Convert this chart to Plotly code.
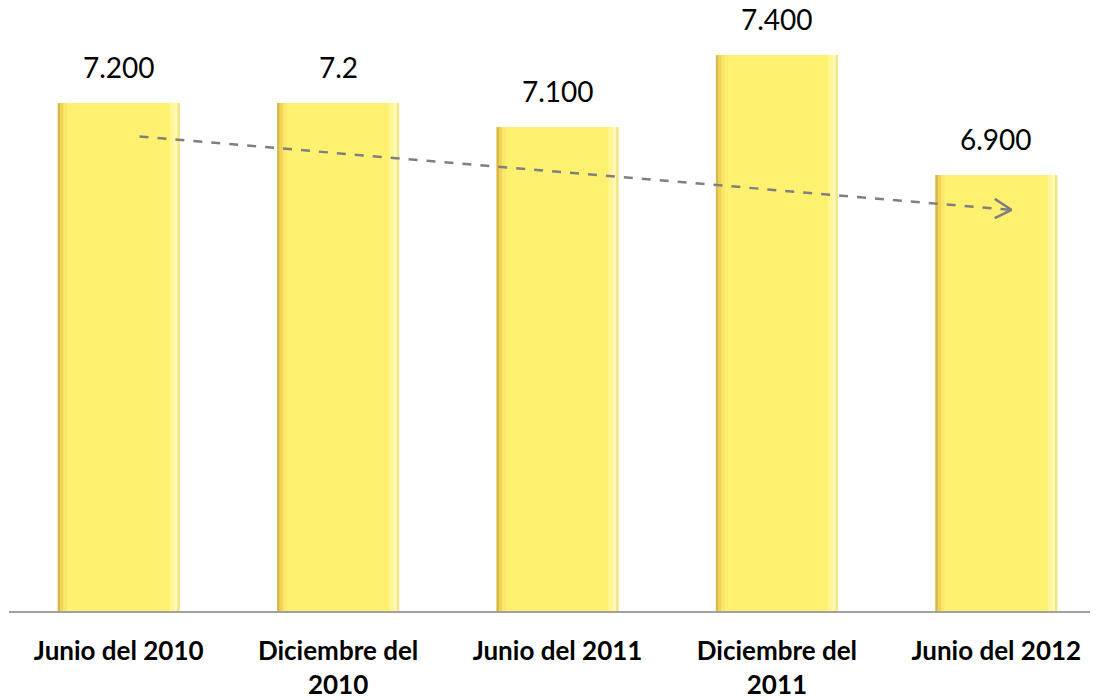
import plotly.graph_objects as go

categories = ["Junio del 2010", "Diciembre del<br>2010", "Junio del 2011", "Diciembre del<br>2011", "Junio del 2012"]
values = [7.2, 7.2, 7.1, 7.4, 6.9]
value_labels = ["7.200", "7.2", "7.100", "7.400", "6.900"]

# trend arrow (data units): start / end
trend_x = [0.095, 4.07]
trend_y = [7.06, 6.754]

x = list(range(len(categories)))
BW = 0.556
fig = go.Figure()

# base bar
fig.add_trace(go.Bar(x=x, y=values, width=BW, marker=dict(color="#FFF170", line=dict(width=0)),
                     hoverinfo="skip", showlegend=False))
# shading strips to mimic horizontal gradient
strips = [
    (-BW/2, 0.012, "#D9B84A"),
    (-BW/2 + 0.012, 0.014, "#EFD258"),
    (-BW/2 + 0.026, 0.016, "#FBE666"),
    (BW/2 - 0.045, 0.02, "#FFF594"),
    (BW/2 - 0.025, 0.015, "#FFF9B8"),
    (BW/2 - 0.01, 0.01, "#F3E38A"),
]
for off, w, c in strips:
    fig.add_trace(go.Bar(x=x, y=values, width=w, offset=off,
                         marker=dict(color=c, line=dict(width=0)),
                         hoverinfo="skip", showlegend=False))

for xi, v, lab in zip(x, values, value_labels):
    fig.add_annotation(x=xi, y=v, text=lab, showarrow=False, yanchor="bottom", yshift=17,
                       font=dict(family="Lato", size=28, color="#000000"))

line_style = dict(color="#7F7F7F", width=2.5)
fig.add_shape(type="line", x0=trend_x[0], y0=trend_y[0], x1=trend_x[1], y1=trend_y[1],
              line=dict(color="#7F7F7F", width=2.5, dash="dash"))
# open arrow head
fig.add_shape(type="line", x0=trend_x[1] - 0.077, y0=trend_y[1] + 0.046, x1=trend_x[1], y1=trend_y[1],
              line=line_style)
fig.add_shape(type="line", x0=trend_x[1] - 0.077, y0=trend_y[1] - 0.034, x1=trend_x[1], y1=trend_y[1],
              line=line_style)

fig.update_layout(
    width=1098, height=700,
    margin=dict(l=1, r=0, t=0, b=97),
    barmode="overlay",
    plot_bgcolor="white", paper_bgcolor="white",
    xaxis=dict(range=[-0.5, 4.5], tickmode="array", tickvals=x, ticktext=categories,
               showline=True, linecolor="#A0A0A0", linewidth=2, showgrid=False, zeroline=False,
               ticks="", ticklabelstandoff=16, automargin=False,
               tickfont=dict(family="Lato", size=26, color="#000000", weight="bold"), tickangle=0),
    yaxis=dict(range=[5.083, 7.5955], visible=False, showgrid=False, zeroline=False, automargin=False),
)

fig.write_html("out.html")
